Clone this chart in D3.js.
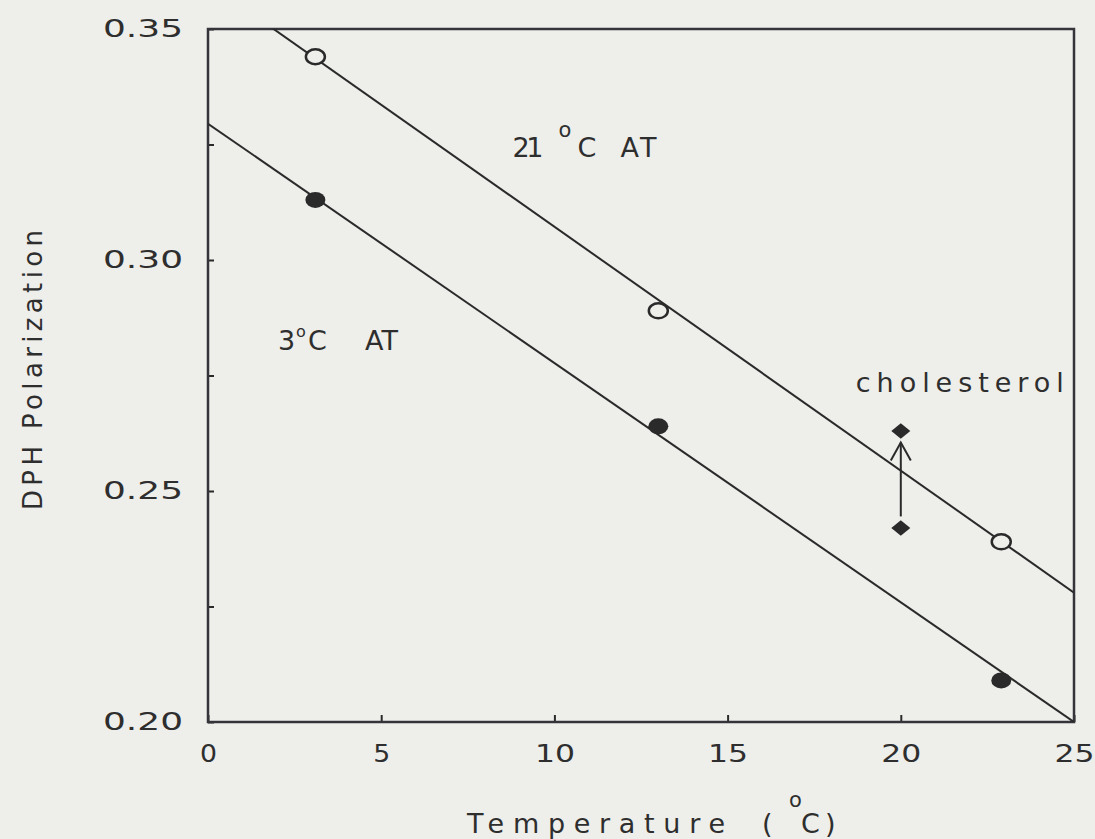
<!DOCTYPE html>
<html>
<head>
<meta charset="utf-8">
<script src="https://cdn.jsdelivr.net/npm/d3@7"></script>
<style>
  html, body { margin: 0; padding: 0; background: #eeeeeb; }
  svg { display: block; }
  text { font-family: "DejaVu Sans", sans-serif; fill: #2e2e2e; }
</style>
</head>
<body>
<svg id="chart" width="1095" height="839"></svg>
<script>
// Measurement temperatures (°C) and DPH polarization for each acclimation group
const temps21 = [3.1, 13.0, 22.9];
const pol21   = [0.344, 0.289, 0.239];
const temps3  = [3.1, 13.0, 22.9];
const pol3    = [0.313, 0.264, 0.209];

// Fitted regression lines (end points at the axis limits)
const fitX  = [0, 25];
const fit21 = [0.360, 0.228];
const fit3  = [0.3295, 0.200];

// Cholesterol enrichment: before / after at 20 °C, arrow tip value
const cholTemp  = 20;
const cholPol   = [0.242, 0.263];
const arrowFrom = 0.2445;
const arrowTo   = 0.2605;

// Axis ticks
const xTicks = [0, 5, 10, 15, 20, 25];
const yTicks = [0.20, 0.225, 0.25, 0.275, 0.30, 0.325, 0.35];

const svg = d3.select("#chart");
const plot = { left: 208, right: 1074, top: 29, bottom: 722 };
const ink = "#2a2a2a";
const bg = "#eeeeeb";

const x = d3.scaleLinear().domain([0, 25]).range([plot.left, plot.right]);
const y = d3.scaleLinear().domain([0.20, 0.35]).range([plot.bottom, plot.top]);

svg.append("defs").append("clipPath").attr("id", "plotArea")
  .append("rect")
  .attr("x", plot.left).attr("y", plot.top)
  .attr("width", plot.right - plot.left).attr("height", plot.bottom - plot.top);

// Axes with inward ticks
const yAxis = d3.axisLeft(y)
  .tickValues(yTicks)
  .tickSizeInner(-6).tickSizeOuter(0).tickPadding(25)
  .tickFormat(d => Math.round(d * 1000) % 50 === 0 ? d3.format(".2f")(d) : "");
const gy = svg.append("g").attr("transform", `translate(${plot.left},0)`).call(yAxis);

const xAxis = d3.axisBottom(x)
  .tickValues(xTicks)
  .tickSizeInner(-7).tickSizeOuter(0).tickPadding(22)
  .tickFormat(d3.format("d"));
const gx = svg.append("g").attr("transform", `translate(0,${plot.bottom})`).call(xAxis);

[gx, gy].forEach(g => {
  g.select(".domain").remove();
  g.selectAll(".tick line").attr("stroke", ink).attr("stroke-width", 2);
  g.selectAll(".tick text").attr("fill", "#2e2e2e").style("font-family", "DejaVu Sans");
});
gy.selectAll(".tick text")
  .attr("font-size", 24)
  .filter(function () { return this.textContent !== ""; })
  .attr("textLength", 80).attr("lengthAdjust", "spacingAndGlyphs");
gx.selectAll(".tick text")
  .attr("font-size", 25)
  .attr("textLength", d => String(d).length === 1 ? 17 : 40)
  .attr("lengthAdjust", "spacingAndGlyphs");

// Frame
svg.append("rect")
  .attr("x", plot.left).attr("y", plot.top)
  .attr("width", plot.right - plot.left).attr("height", plot.bottom - plot.top)
  .attr("fill", "none").attr("stroke", "#34343a").attr("stroke-width", 2.5);

// Regression lines
const line = d3.line().x(d => x(d[0])).y(d => y(d[1]));
const fits = [fitX.map((t, i) => [t, fit21[i]]), fitX.map((t, i) => [t, fit3[i]])];
svg.append("g").attr("clip-path", "url(#plotArea)")
  .selectAll("path").data(fits).join("path")
  .attr("d", line)
  .attr("fill", "none").attr("stroke", ink).attr("stroke-width", 2);

// Cholesterol arrow
svg.append("line")
  .attr("x1", x(cholTemp)).attr("x2", x(cholTemp))
  .attr("y1", y(arrowFrom)).attr("y2", y(arrowTo))
  .attr("stroke", ink).attr("stroke-width", 2);
svg.append("path")
  .attr("d", `M${x(cholTemp) - 10},${y(arrowTo) + 18}L${x(cholTemp)},${y(arrowTo)}L${x(cholTemp) + 10},${y(arrowTo) + 18}`)
  .attr("fill", "none").attr("stroke", ink).attr("stroke-width", 2);

// Cholesterol diamonds
const diamond = d3.symbol().type(d3.symbolDiamond2).size(230);
svg.append("g").selectAll("path").data(cholPol).join("path")
  .attr("d", diamond)
  .attr("transform", d => `translate(${x(cholTemp)},${y(d)}) scale(1,0.82)`)
  .attr("fill", ink);

// 3 °C acclimated: filled markers
svg.append("g").selectAll("ellipse").data(temps3.map((t, i) => [t, pol3[i]])).join("ellipse")
  .attr("cx", d => x(d[0])).attr("cy", d => y(d[1]))
  .attr("rx", 10).attr("ry", 8)
  .attr("fill", ink);

// 21 °C acclimated: open markers
svg.append("g").selectAll("ellipse").data(temps21.map((t, i) => [t, pol21[i]])).join("ellipse")
  .attr("cx", d => x(d[0])).attr("cy", d => y(d[1]))
  .attr("rx", 9.5).attr("ry", 7.5)
  .attr("fill", bg).attr("stroke", ink).attr("stroke-width", 2.5);

// Text built from pieces so the raised degree sign sits like a superscript
function label(px, py, parts, base) {
  const t = svg.append("text").attr("font-size", base);
  parts.forEach(p => {
    const s = t.append("tspan")
      .attr("x", px + p.dx)
      .attr("y", py - (p.rise || 0))
      .text(p.t);
    if (p.size) s.attr("font-size", p.size);
    if (p.len) s.attr("textLength", p.len).attr("lengthAdjust", "spacing");
  });
  return t;
}

label(x(8.79), y(0.3223), [
  { t: "21", dx: 0, len: 31 },
  { t: "o", dx: 46, size: 21, rise: 20 },
  { t: "C", dx: 65 },
  { t: "AT", dx: 108, len: 36 }
], 27);

label(x(2.02), y(0.2805), [
  { t: "3", dx: 0 },
  { t: "o", dx: 18, size: 16, rise: 13 },
  { t: "C", dx: 30 },
  { t: "AT", dx: 87, len: 33 }
], 27);

label(x(18.70), y(0.2714), [
  { t: "cholesterol", dx: 0, len: 208 }
], 27);

// Axis titles
label(467, 833, [
  { t: "Temperature", dx: 0, len: 258 },
  { t: "(", dx: 295 },
  { t: "o", dx: 322, size: 21, rise: 26 },
  { t: "C", dx: 334 },
  { t: ")", dx: 358 }
], 27);

svg.append("text")
  .attr("transform", "translate(42,510) rotate(-90)")
  .attr("font-size", 26)
  .attr("textLength", 280).attr("lengthAdjust", "spacing")
  .text("DPH Polarization");
</script>
</body>
</html>
